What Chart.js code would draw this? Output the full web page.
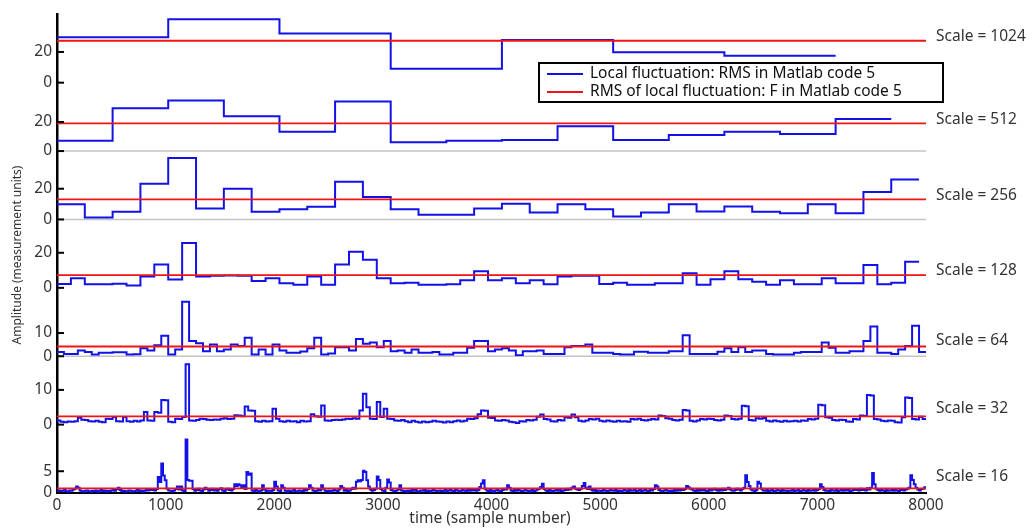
<!DOCTYPE html>
<html>
<head>
<meta charset="utf-8">
<script src="https://cdn.jsdelivr.net/npm/chart.js@4.4.1/dist/chart.umd.min.js"></script>
<style>
  body { margin: 0; background: #fff; }
  canvas { display: block; }
</style>
</head>
<body>
<canvas id="chart" width="1033" height="529"></canvas>
<script>
// window sizes (samples) of each panel, top to bottom
const windowSizes = [1024, 512, 256, 128, 64, 32, 16];

// local RMS per window
const rms1024 = [29.5, 41.3, 32, 9, 27.8, 19.8, 17.6];
const rms512 = [7.1, 29.4, 34.7, 23.9, 13.3, 34, 6, 7.1, 7.6, 17, 7.6, 11, 13.3, 11.7, 22];
const rms256 = [9.9, 1.3, 5, 23.2, 40, 7.1, 20, 5, 6.7, 8.2, 24.5, 14.6, 6.7, 3, 3, 7.1,
  10.3, 4.5, 9.9, 6.7, 1.9, 4.5, 9.9, 5.2, 8.4, 5, 4.1, 9.9, 4.1, 17.8, 26];
const rms128 = [2.2, 5.4, 2, 2, 2.4, 1.3, 6.4, 13.3, 4.8, 25.6, 6.4, 6.9, 7.1, 6.9, 3.9, 5.4,
  2.6, 1.7, 6.4, 1.7, 13.3, 20.6, 16, 5.4, 2.6, 2.9, 1.7, 1.7, 2, 4.4, 9.4, 4.4,
  5.4, 2.6, 4.4, 2, 6.4, 6.9, 6.9, 2.2, 2.9, 1.7, 1.7, 2.6, 2.6, 8.3, 1.7, 4.9,
  9.4, 4.9, 3.5, 1.7, 4.4, 2, 2, 5.4, 2.6, 2.6, 13, 2, 2.9, 14.9];
const rms64 = [1.8, 1.0, 1.0, 2.5, 1.8, 0.7, 1.5, 1.5, 1.7, 1.7,
  0.7, 0.9, 3.4, 2.5, 4.7, 8.8, 0.7, 2.9, 23.5, 6.6,
  5.6, 2.2, 5.1, 2.2, 2.9, 5.1, 4.4, 8.0, 0.7, 2.9,
  0.7, 5.1, 2.5, 1.5, 1.5, 2.0, 3.4, 8.0, 0.7, 1.2,
  3.9, 3.9, 2.5, 7.4, 5.4, 5.9, 3.9, 6.6, 2.2, 2.5,
  1.5, 2.9, 1.5, 1.5, 1.8, 0.7, 0.7, 1.5, 1.5, 3.7,
  6.6, 6.6, 2.2, 2.9, 3.4, 2.5, 0.4, 2.2, 2.2, 2.5,
  1.0, 1.0, 1.0, 3.9, 4.4, 4.4, 5.1, 1.5, 1.5, 1.5,
  1.0, 0.7, 0.7, 1.9, 1.9, 1.5, 1.5, 1.5, 2.2, 2.2,
  9.1, 1.0, 1.0, 1.0, 1.0, 1.9, 3.4, 1.8, 3.9, 1.8,
  2.5, 2.5, 1.0, 0.7, 0.7, 0.7, 1.5, 1.8, 1.8, 1.8,
  5.9, 3.7, 1.5, 1.5, 2.2, 2.2, 6.6, 12.8, 1.5, 1.5,
  1.0, 2.9, 4.4, 13.2, 1.8];
const rms32 = [1.2, 0.8, 0.7, 0.9, 0.8, 1.0, 2.0, 1.4, 1.3, 1.0,
  0.9, 1.1, 0.8, 0.7, 1.7, 1.6, 2.2, 1.0, 0.9, 2.2,
  1.0, 0.8, 1.1, 0.9, 1.2, 3.6, 1.2, 1.1, 3.6, 3.4,
  7.1, 7.0, 0.8, 0.7, 1.7, 1.6, 2.2, 17.4, 1.2, 1.1,
  1.3, 1.7, 1.6, 1.4, 1.3, 1.5, 1.4, 1.7, 1.8, 1.6,
  1.7, 2.7, 2.6, 2.4, 5.2, 4.1, 4.0, 1.0, 0.8, 1.1,
  0.9, 1.0, 4.6, 1.7, 1.0, 0.8, 1.1, 0.9, 1.0, 0.7,
  1.1, 0.9, 1.0, 3.0, 2.4, 2.3, 5.5, 1.2, 1.1, 1.3,
  1.4, 1.3, 1.5, 1.7, 1.6, 1.8, 1.7, 4.1, 8.9, 5.0,
  1.7, 1.6, 6.5, 2.2, 4.6, 1.7, 1.6, 1.2, 1.1, 1.3,
  1.0, 0.7, 1.1, 0.8, 0.6, 0.9, 0.7, 0.8, 1.1, 0.9,
  0.8, 0.6, 0.9, 0.7, 1.0, 1.2, 0.9, 1.1, 1.7, 1.6,
  1.8, 3.0, 4.1, 4.0, 2.0, 1.9, 1.2, 1.1, 1.3, 1.2,
  0.8, 0.7, 0.5,
  1.0, 0.9, 1.3, 1.2, 1.4, 2.3, 2.9, 1.6, 1.5, 1.0,
  0.9, 1.3, 1.2, 2.1, 2.0, 2.9, 2.1, 1.1, 0.9, 1.2,
  1.6, 1.5, 1.7, 1.1, 0.9, 1.2, 1.0, 0.8, 1.1, 0.9,
  1.0, 0.8, 1.6, 1.5, 1.7, 1.3, 1.2, 1.4, 1.6, 1.5,
  2.6, 2.5, 1.8, 1.7, 1.3, 1.2, 1.4, 4.2, 4.1, 1.1,
  0.9, 1.2, 1.6, 1.5, 1.7, 1.6, 1.3, 1.2, 1.4, 2.6,
  2.5, 1.6, 1.5, 1.7, 5.4, 5.3, 1.3, 1.2, 1.8, 1.7,
  1.9, 1.1, 0.9, 1.2, 1.0, 0.8, 1.1, 0.9, 1.0, 1.1,
  0.9, 1.2, 1.1, 1.6, 1.5, 1.7, 5.7, 5.6, 2.1, 2.0,
  1.3, 1.2, 1.4, 1.3, 0.9, 0.8, 1.6, 1.5, 2.6, 2.5,
  8.5, 8.4, 1.6, 1.5, 1.1, 1.0, 1.2, 1.1, 0.7, 0.6,
  2.1, 7.8, 7.7, 1.6, 1.5, 2.3, 1.6];
const rms16 = [
  0.4, 0.6, 0.3, 0.5, 0.7, 0.4, 0.3, 0.6, 0.5, 0.8, 1.0, 1.5, 1.2, 0.6, 0.4, 0.3, 0.5, 0.6, 0.4, 0.3,
  0.5, 0.4, 0.6, 0.3, 0.5, 0.7, 0.4, 0.6, 0.3, 0.5, 0.4, 0.6, 0.8, 0.5, 0.9, 1.2, 0.7, 0.4, 0.5, 0.3,
  0.4, 0.6, 0.5, 0.3, 0.4, 0.5, 0.7, 0.4, 0.6, 0.3, 0.5, 0.8, 0.6, 0.9, 0.7, 0.8, 0.6, 0.9, 3.7, 2.5,
  6.8, 4.0, 2.9, 1.0, 0.6, 0.5, 0.3, 0.6, 0.9, 1.5, 0.8, 1.5, 0.6, 0.4, 12.3, 3.0, 2.8, 2.8, 0.9, 0.5,
  0.7, 1.0, 0.6, 0.4, 0.8, 1.2, 0.9, 0.5, 0.7, 1.0, 0.6, 0.8, 0.5, 0.9, 1.1, 0.6, 0.4, 0.8, 1.0, 0.7,
  0.6, 0.9, 2.0, 1.6, 2.0, 1.8, 1.2, 1.8, 0.9, 4.8, 4.2, 4.5, 0.6, 0.4, 0.7, 0.5, 0.3, 0.6, 1.8, 0.8,
  0.4, 0.6, 0.5, 0.3, 0.7, 2.6, 1.5, 0.6, 0.4, 1.8, 1.2, 0.5, 0.3, 0.6, 0.4, 0.5, 0.8, 0.4, 0.3, 0.6,
  0.5, 0.4, 0.7, 0.6, 0.9, 1.8, 1.2, 0.6, 0.4, 0.5, 0.8, 0.6, 1.8, 1.0, 0.5, 0.4, 0.6, 0.3, 0.5, 0.7,
  0.6, 0.4, 0.8, 1.6, 1.2, 0.5, 0.7, 0.4, 0.6, 0.9, 1.2, 1.0, 2.6, 2.9, 2.7, 3.0, 5.1, 4.8, 2.9, 1.5,
  0.8, 0.5, 0.7, 1.0, 3.8, 3.0, 0.9, 0.6, 0.4, 1.2, 3.1, 2.4, 0.7, 0.5, 0.4, 0.6, 0.8, 1.8, 0.6, 0.4,
  0.5, 0.3, 0.6, 0.4, 0.7, 0.5, 0.8, 0.4, 0.3, 0.6, 0.5, 0.7, 0.4, 0.6, 0.3, 0.5, 0.8, 0.6, 0.4, 0.5,
  0.6, 0.4, 0.5, 0.7, 0.3, 0.6, 0.9, 0.5, 0.4, 0.7, 0.6, 0.3, 0.5, 0.8, 0.6, 0.4, 0.7, 0.5, 0.9, 0.6,
  0.8, 0.5, 0.7, 1.4, 2.2, 2.9, 1.0, 0.6, 0.4, 0.7, 0.5, 0.3, 0.6, 0.8, 0.5, 0.4, 0.7, 1.0, 0.8, 1.8,
  1.2, 0.6, 0.4, 0.7, 0.5, 0.8, 0.6, 0.4, 0.5, 0.9, 0.6, 0.3, 0.5, 0.7, 0.4, 0.6, 0.8, 1.0, 1.4, 2.1,
  0.9, 0.6, 0.4, 0.7, 0.5, 0.3, 0.6, 0.8, 0.5, 0.7, 0.4, 0.6, 0.9, 0.7, 1.0, 0.8, 1.2, 1.5, 1.0, 0.8,
  0.7, 1.0, 1.6, 2.3, 1.2, 0.9, 1.5, 0.8, 0.5, 0.7, 0.4, 0.6, 0.5, 0.3, 0.7, 0.6, 0.4, 0.5, 0.8, 0.6,
  0.5, 0.7, 0.4, 0.6, 0.3, 0.5, 0.8, 0.6, 0.4, 0.7, 0.5, 0.6, 0.9, 0.4, 0.5, 0.7, 0.3, 0.6, 0.8, 0.5,
  0.4, 0.7, 0.6, 0.9, 1.8, 1.5, 0.7, 0.5, 0.4, 0.6, 0.8, 0.5, 0.3, 0.6, 0.4, 0.7, 0.5, 0.9, 0.6, 0.8,
  0.7, 0.9, 1.6, 1.3, 1.0, 0.8, 0.6, 0.4, 0.7, 0.5, 0.8, 0.6, 0.9, 0.5, 0.4, 0.7, 0.6, 0.8, 1.0, 0.7,
  0.5, 0.8, 0.6, 1.0, 0.7, 0.9, 1.2, 0.8, 0.6, 0.5, 0.7, 1.0, 0.8, 0.6, 0.9, 1.2, 4.1, 2.5, 1.6, 0.8,
  0.6, 0.4, 0.7, 2.6, 2.2, 1.0, 0.6, 0.5, 0.8, 0.4, 0.6, 0.7, 0.3, 0.5, 0.8, 0.6, 0.4, 0.7, 0.5, 0.6,
  0.4, 0.6, 0.5, 0.8, 0.3, 0.6, 0.7, 0.4, 0.5, 0.9, 0.6, 0.4, 0.7, 0.5, 0.6, 0.8, 0.5, 0.7, 0.9, 2.0,
  1.4, 0.7, 0.5, 0.6, 0.4, 0.8, 0.6, 0.5, 0.7, 0.4, 0.6, 0.9, 0.5, 0.7, 0.6, 0.8, 0.4, 0.6, 0.9, 0.7,
  0.8, 0.6, 1.0, 0.7, 0.9, 0.6, 1.1, 0.8, 1.2, 4.6, 2.0, 1.0, 0.7, 0.5, 0.8, 0.6, 0.4, 0.7, 0.5, 0.6,
  0.7, 0.5, 0.8, 0.6, 0.4, 0.7, 0.9, 0.6, 0.8, 1.0, 1.2, 4.1, 3.0, 2.0, 1.2, 0.8, 0.6, 0.9, 1.0, 1.3];

const localRms = [rms1024, rms512, rms256, rms128, rms64, rms32, rms16];

// F: RMS of the local fluctuation (red lines)
const fValues = [27.3, 19.1, 13.1, 7.3, 4.2, 2.35, 1.05];

// axis ranges and tick labels of each panel
const yMaxes = [44.5, 47, 44.5, 39, 29.5, 19.7, 15.7];
const yTickVals = [[0, 20], [0, 20], [0, 20], [0, 20], [0, 10], [0, 10], [0, 5]];
const xTickVals = [0, 1000, 2000, 3000, 4000, 5000, 6000, 7000, 8000];
const xMax = 8000;

const legendLabels = ['Local fluctuation: RMS in Matlab code 5', 'RMS of local fluctuation: F in Matlab code 5'];

const BLUE = '#1212e8';
const RED = '#f01414';
const FONT = 'Noto Sans';

function stepPoints(vals, size) {
  const pts = vals.map((v, i) => ({x: i * size, y: v}));
  pts.push({x: vals.length * size, y: vals[vals.length - 1]});
  return pts;
}

const datasets = [];
windowSizes.forEach((size, i) => {
  const id = 'y' + i;
  datasets.push({
    label: 'F ' + size,
    data: [{x: 0, y: fValues[i]}, {x: xMax, y: fValues[i]}],
    yAxisID: id,
    borderColor: RED,
    borderWidth: 1.8,
    pointRadius: 0,
    order: 0
  });
  datasets.push({
    label: 'RMS ' + size,
    data: stepPoints(localRms[i], size),
    yAxisID: id,
    borderColor: BLUE,
    borderWidth: 2,
    pointRadius: 0,
    stepped: 'before',
    order: 1
  });
});

// stacked axes are laid out bottom-up, so add the bottom panel first
const scalesCfg = {
  x: {
    type: 'linear',
    min: 0,
    max: xMax,
    afterFit: s => { s.height = 36; },
    afterBuildTicks: s => { s.ticks = xTickVals.map(v => ({value: v})); },
    grid: {display: false, drawTicks: false},
    border: {display: true, color: '#000', width: 2},
    ticks: {padding: 3, maxRotation: 0, color: '#333', font: {family: FONT, size: 15.5}, callback: v => String(v)}
  }
};
for (let i = windowSizes.length - 1; i >= 0; i--) {
  scalesCfg['y' + i] = {
    type: 'linear',
    position: 'left',
    stack: 'panels',
    stackWeight: 1,
    min: 0,
    max: yMaxes[i],
    afterFit: s => { s.width = 57; },
    afterBuildTicks: s => { s.ticks = yTickVals[i].map(v => ({value: v})); },
    grid: {display: false, drawTicks: false},
    border: {display: true, color: '#000', width: 2.5},
    ticks: {padding: 5, color: '#333', font: {family: FONT, size: 15.5}}
  };
}

const decorations = {
  id: 'decorations',
  beforeDatasetsDraw(chart) {
    const ctx = chart.ctx;
    const area = chart.chartArea;
    ctx.save();
    ctx.strokeStyle = '#c4c4c4';
    ctx.lineWidth = 1.5;
    [1, 2, 4].forEach(i => {
      const y = chart.scales['y' + i].getPixelForValue(0);
      ctx.beginPath();
      ctx.moveTo(area.left, y);
      ctx.lineTo(area.right, y);
      ctx.stroke();
    });
    ctx.restore();
  },
  afterDraw(chart) {
    const ctx = chart.ctx;
    const area = chart.chartArea;
    ctx.save();

    // inward tick marks on the left axis
    ctx.strokeStyle = '#000';
    ctx.lineWidth = 2;
    windowSizes.forEach((size, i) => {
      const sc = chart.scales['y' + i];
      yTickVals[i].forEach(v => {
        const y = sc.getPixelForValue(v);
        ctx.beginPath();
        ctx.moveTo(area.left, y);
        ctx.lineTo(area.left + 7, y);
        ctx.stroke();
      });
    });

    // "Scale = N" labels next to the red lines
    ctx.fillStyle = '#333';
    ctx.font = '15.5px "' + FONT + '"';
    ctx.textAlign = 'left';
    ctx.textBaseline = 'middle';
    windowSizes.forEach((size, i) => {
      const sc = chart.scales['y' + i];
      const y = Math.min(sc.getPixelForValue(fValues[i]) - 4, sc.bottom - 16);
      ctx.fillText('Scale = ' + size, area.right + 10, y);
    });

    // legend box
    const lx = 539, ly = 63, lw = 404, lh = 39;
    ctx.fillStyle = '#fff';
    ctx.fillRect(lx, ly, lw, lh);
    ctx.strokeStyle = '#000';
    ctx.lineWidth = 2;
    ctx.strokeRect(lx, ly, lw, lh);
    [BLUE, RED].forEach((col, k) => {
      const y = ly + 11 + k * 18;
      ctx.strokeStyle = col;
      ctx.lineWidth = 2;
      ctx.beginPath();
      ctx.moveTo(lx + 8, y);
      ctx.lineTo(lx + 44, y);
      ctx.stroke();
      ctx.fillStyle = '#111';
      ctx.font = '15.5px "' + FONT + '"';
      ctx.fillText(legendLabels[k], lx + 51, y);
    });

    // axis titles
    ctx.fillStyle = '#333';
    ctx.font = '15.5px "' + FONT + '"';
    ctx.textAlign = 'center';
    ctx.fillText('time (sample number)', 490, 519);
    ctx.translate(18, 255);
    ctx.rotate(-Math.PI / 2);
    ctx.font = '12px "' + FONT + '"';
    ctx.fillText('Amplitude (measurement units)', 0, 0);
    ctx.restore();
  }
};

new Chart(document.getElementById('chart'), {
  type: 'line',
  data: {datasets},
  options: {
    responsive: false,
    animation: false,
    layout: {padding: {top: 10, right: 107, left: 0, bottom: 0}},
    plugins: {legend: {display: false}, tooltip: {enabled: false}},
    elements: {line: {tension: 0}},
    scales: scalesCfg
  },
  plugins: [decorations]
});
</script>
</body>
</html>
